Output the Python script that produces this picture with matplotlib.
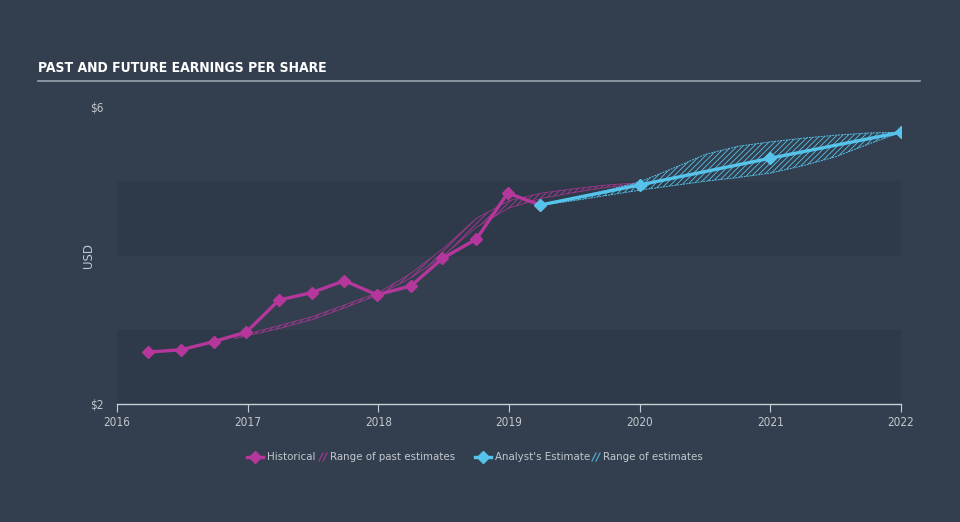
import numpy as np
import matplotlib
matplotlib.use('Agg')
import matplotlib.pyplot as plt
from matplotlib.lines import Line2D

# ── Data ──────────────────────────────────────────────────────
hist_x = [2016.24, 2016.49, 2016.74, 2016.99, 2017.24, 2017.49, 2017.74,
          2017.99, 2018.25, 2018.49, 2018.75, 2018.99, 2019.24]
hist_y = [2.70, 2.73, 2.84, 2.97, 3.40, 3.50, 3.66,
          3.47, 3.59, 3.96, 4.22, 4.84, 4.68]

est_x = [2019.24, 2020.0, 2021.0, 2022.0]
est_y = [4.68, 4.95, 5.31, 5.66]

past_x = [2016.9, 2017.25, 2017.5, 2017.75, 2018.0, 2018.25, 2018.5,
          2018.75, 2019.0, 2019.25, 2019.5, 2019.75, 2020.0]
past_lo = [2.88, 3.02, 3.14, 3.30, 3.47, 3.70, 4.00,
           4.38, 4.64, 4.77, 4.85, 4.92, 4.96]
past_hi = [2.90, 3.06, 3.18, 3.34, 3.50, 3.76, 4.10,
           4.50, 4.74, 4.84, 4.90, 4.95, 4.98]

fut_x = [2019.25, 2019.5, 2019.75, 2020.0, 2020.25, 2020.5, 2020.75,
         2021.0, 2021.25, 2021.5, 2021.75, 2022.0]
fut_lo = [4.68, 4.74, 4.81, 4.88, 4.94, 5.00, 5.05,
          5.11, 5.21, 5.33, 5.50, 5.66]
fut_hi = [4.68, 4.78, 4.88, 4.99, 5.17, 5.36, 5.47,
          5.53, 5.58, 5.62, 5.65, 5.66]

years = [2016, 2017, 2018, 2019, 2020, 2021, 2022]

# ── Style ─────────────────────────────────────────────────────
BG = '#333f4f'
BAND = '#2e3a49'
PINK = '#b5379b'
CYAN = '#56c3ea'
TXT = '#c3c8ce'
plt.rcParams['hatch.linewidth'] = 0.6

fig = plt.figure(figsize=(9.6, 5.22), dpi=100)
fig.patch.set_facecolor(BG)
ax = fig.add_axes([117/960, 1 - 404/522, (901-117)/960, (404-107)/522])
ax.set_facecolor(BG)
ax.set_xlim(2016, 2022)
ax.set_ylim(2, 6)

# alternating horizontal bands
for lo, hi in [(2, 3), (4, 5)]:
    ax.axhspan(lo, hi, color=BAND, lw=0, zorder=0)

# range of past estimates
ax.fill_between(past_x, past_lo, past_hi, facecolor='none', edgecolor=PINK,
                hatch='//////', lw=0, zorder=1)
ax.plot(past_x, past_lo, color=PINK, lw=0.6, alpha=0.8, zorder=1)
ax.plot(past_x, past_hi, color=PINK, lw=0.6, alpha=0.8, zorder=1)

# range of future estimates
ax.fill_between(fut_x, fut_lo, fut_hi, facecolor='none', edgecolor=CYAN,
                hatch='//////', lw=0, zorder=1)
ax.plot(fut_x, fut_lo, color=CYAN, lw=0.7, ls=(0, (2, 1)), zorder=1)
ax.plot(fut_x, fut_hi, color=CYAN, lw=0.7, ls=(0, (2, 1)), zorder=1)

ax.plot(hist_x, hist_y, color=PINK, lw=2.4, marker='D', ms=6,
        solid_joinstyle='round', zorder=3)
ax.plot(est_x, est_y, color=CYAN, lw=2.4, marker='D', ms=6, zorder=4)

# axes decoration
for s in ['top', 'right', 'left']:
    ax.spines[s].set_visible(False)
ax.spines['bottom'].set_color('#c8ced6')
ax.spines['bottom'].set_linewidth(1)
ax.set_xticks(years)
ax.set_xticklabels([str(y) for y in years], color=TXT, fontsize=8.5,
                   fontstretch='condensed')
ax.tick_params(axis='x', direction='out', length=6, color='#c8ced6', pad=3)
ax.set_yticks([2, 6])
ax.set_yticklabels(['$2', '$6'], color=TXT, fontsize=8.5, fontstretch='condensed')
ax.tick_params(axis='y', length=0, pad=10)
ax.set_ylabel('USD', color=TXT, fontsize=8.5)
ax.yaxis.set_label_coords(-0.028, 0.5)

# title + rule
fig.text(38/960, 1 - 68/522, 'PAST AND FUTURE EARNINGS PER SHARE',
         family='DejaVu Sans', fontstretch='condensed', fontweight='bold',
         fontsize=10, color='white', va='center')
fig.add_artist(Line2D([38/960, 920/960], [1 - 81/522, 1 - 81/522],
                      color='#9aa3ad', lw=1.2))

# legend, laid out by hand
ly = 1 - 457/522
lfs = 7.4


def hatch_icon(x0, color):
    for dx in (0, 4):
        fig.add_artist(Line2D([(x0 + dx)/960, (x0 + dx + 4)/960],
                              [ly - 4/522, ly + 4/522], color=color, lw=0.9,
                              alpha=0.8))


fig.add_artist(Line2D([247/960, 263/960], [ly, ly], color=PINK, lw=2.4))
fig.add_artist(Line2D([255/960], [ly], color=PINK, marker='D', ms=6))
fig.text(267/960, ly, 'Historical', color=TXT, fontsize=lfs, va='center')
hatch_icon(319, PINK)
fig.text(330/960, ly, 'Range of past estimates', color=TXT, fontsize=lfs, va='center')
fig.add_artist(Line2D([475/960, 491/960], [ly, ly], color=CYAN, lw=2.4))
fig.add_artist(Line2D([483/960], [ly], color=CYAN, marker='D', ms=6))
fig.text(495/960, ly, "Analyst's Estimate", color=TXT, fontsize=lfs, va='center')
hatch_icon(592, CYAN)
fig.text(603/960, ly, 'Range of estimates', color=TXT, fontsize=lfs, va='center')

fig.savefig('out.png', dpi=100, facecolor=BG)
